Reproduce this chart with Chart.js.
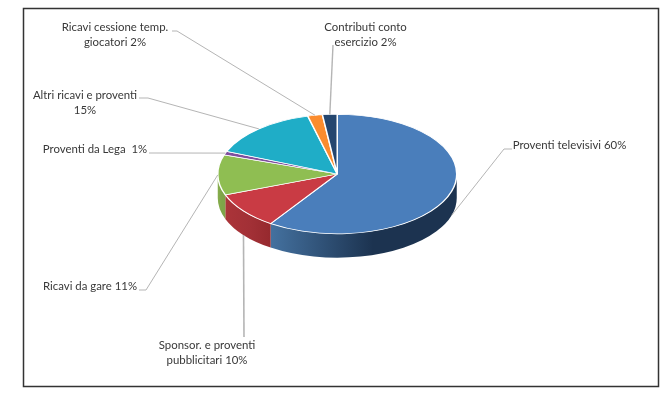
<!DOCTYPE html>
<html>
<head>
<meta charset="utf-8">
<style>
  html, body { margin: 0; padding: 0; background: #fff; }
  canvas { display: block; }
</style>
</head>
<body>
<canvas id="chart" width="672" height="401"></canvas>
<script src="https://cdn.jsdelivr.net/npm/chart.js@4"></script>
<script>
const categories = [
  "Proventi televisivi",
  "Sponsor. e proventi pubblicitari",
  "Ricavi da gare",
  "Proventi da Lega",
  "Altri ricavi e proventi",
  "Ricavi cessione temp. giocatori",
  "Contributi conto esercizio",
];
const shares = [60, 10, 11, 1, 15, 2, 2];
const labelLines = [
  ["Proventi televisivi 60%"],
  ["Sponsor. e proventi", "pubblicitari 10%"],
  ["Ricavi da gare 11%"],
  ["Proventi da Lega  1%"],
  ["Altri ricavi e proventi", "15%"],
  ["Ricavi cessione temp.", "giocatori 2%"],
  ["Contributi conto", "esercizio 2%"],
];

const topColors = ["#4a7ebb", "#c93b44", "#8fbe52", "#7f4f9e", "#1fadc7", "#fb8c2e", "#24466f"];
// left / middle / right colour of the rim
const sideColors = [
  ["#44719f", "#1c3350", "#1c3350"],
  ["#ab3439", "#a23036", "#96292e"],
  ["#86ad4c", "#7ea448", "#7ea448"],
];

// label centre, first line middle, and where the leader leaves the label
const placements = [
  { x: 569.5, y: 145, path: [[512, 149], [504, 149]], drop: true },
  { x: 207, y: 345, path: [[244, 337]], drop: true, width: 1.6 },
  { x: 90, y: 286, path: [[139, 290], [146, 290]] },
  { x: 95, y: 149, path: [[149, 153], [157, 153]] },
  { x: 85, y: 95, path: [[139, 98], [148, 98]] },
  { x: 115, y: 27, path: [[172, 31], [177, 31]] },
  { x: 365.5, y: 27, path: [[333, 45]], width: 1.4 },
];

const squash = 0.5;
const depth = 24;

const pie3d = {
  id: "pie3d",
  beforeDraw(chart) {
    const c = chart.ctx;
    c.save();
    c.fillStyle = "#fff";
    c.fillRect(0, 0, 672, 401);
    c.strokeStyle = "#333";
    c.lineWidth = 1.5;
    c.strokeRect(23.5, 8.5, 635, 378);
    c.restore();
  },
  beforeDatasetDraw(chart) {
    const c = chart.ctx;
    const arcs = chart.getDatasetMeta(0).data;
    const cx = arcs[0].x;
    const cy = arcs[0].y;
    const r = arcs[0].outerRadius;

    // rim under the front of the pie
    arcs.forEach((arc, i) => {
      const from = Math.max(arc.startAngle, 0);
      const to = Math.min(arc.endAngle, Math.PI);
      if (to <= from) return;
      const x0 = cx + r * Math.cos(to);
      const x1 = cx + r * Math.cos(from);
      const grad = c.createLinearGradient(x0, 0, x1, 0);
      const stops = sideColors[i] || [topColors[i], topColors[i], topColors[i]];
      grad.addColorStop(0, stops[0]);
      grad.addColorStop(0.55, stops[1]);
      grad.addColorStop(1, stops[2]);
      c.beginPath();
      c.ellipse(cx, cy, r, r * squash, 0, from, to);
      c.ellipse(cx, cy + depth, r, r * squash, 0, to, from, true);
      c.closePath();
      c.fillStyle = grad;
      c.fill();
    });

    c.save();
    c.translate(cx, cy);
    c.scale(1, squash);
    c.translate(-cx, -cy);
  },
  afterDatasetDraw(chart) {
    chart.ctx.restore();
  },
  afterDraw(chart) {
    const c = chart.ctx;
    const arcs = chart.getDatasetMeta(0).data;
    c.save();
    arcs.forEach((arc, i) => {
      const place = placements[i];
      const mid = (arc.startAngle + arc.endAngle) / 2;
      const ex = arc.x + arc.outerRadius * Math.cos(mid);
      const ey = arc.y + arc.outerRadius * squash * Math.sin(mid) + (place.drop ? depth : 0);

      c.beginPath();
      place.path.forEach((p, k) => (k ? c.lineTo(p[0], p[1]) : c.moveTo(p[0], p[1])));
      c.lineTo(ex, ey);
      c.strokeStyle = "#b5b5b5";
      c.lineWidth = place.width || 1;
      c.stroke();

      c.fillStyle = "#383838";
      c.font = "11.4px Lato";
      c.textAlign = "center";
      c.textBaseline = "middle";
      labelLines[i].forEach((line, k) => c.fillText(line, place.x, place.y + k * 15));
    });
    c.restore();
  },
};

new Chart(document.getElementById("chart"), {
  type: "pie",
  data: {
    labels: categories,
    datasets: [{
      data: shares,
      backgroundColor: topColors,
      borderColor: "#fff",
      borderWidth: 1.5,
      clip: false,
    }],
  },
  options: {
    responsive: false,
    animation: false,
    layout: { padding: { left: 217, right: 214.5, top: 0, bottom: 53 } },
    plugins: { legend: { display: false }, tooltip: { enabled: false } },
  },
  plugins: [pie3d],
});
</script>
</body>
</html>
